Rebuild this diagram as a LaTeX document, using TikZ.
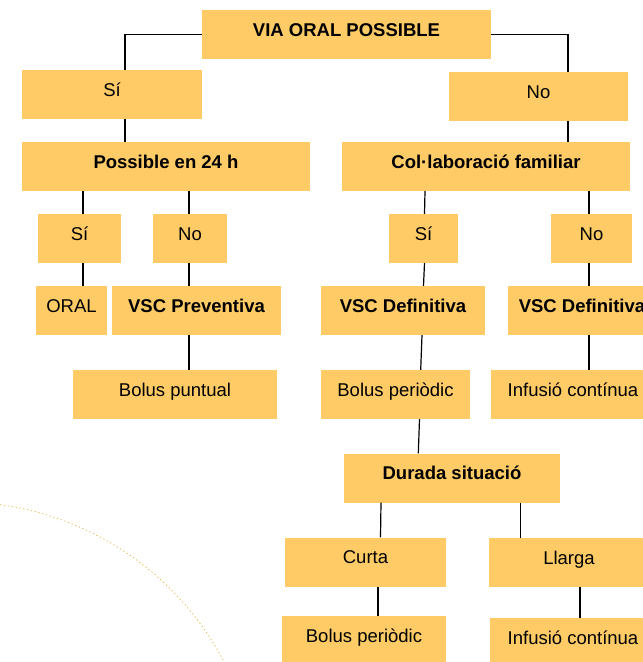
\documentclass[tikz,border=0pt]{standalone}
\usepackage{fontspec}
\setmainfont{Liberation Sans}
\definecolor{boxc}{HTML}{FECB66}
\definecolor{arcc}{HTML}{E2B43E}
\begin{document}
\begin{tikzpicture}[x=1pt,y=-1pt,
  box/.style={fill=boxc, inner sep=0pt, minimum height=49pt,
    font=\fontsize{18.5}{22}\selectfont, text height=13.25pt, text depth=10pt},
  bbox/.style={box, font=\fontsize{18.5}{22}\selectfont\bfseries},
  conn/.style={draw=black, line width=1.2pt}]
\useasboundingbox (0,0) rectangle (643,662);
\clip (0,0) rectangle (643,662);
% decorative arc
\draw[arcc, line width=0.7pt, dash pattern=on 1.3pt off 2.6pt] (-40,800) ++(-92:298) arc[start angle=-92, end angle=-18, radius=298];
% nodes
\node[bbox, minimum width=289pt] (via) at (346.5,34.5) {VIA ORAL POSSIBLE};
\node[box, minimum width=180pt] (si1) at (112,94.5) {Sí};
\node[box, minimum width=179pt] (no1) at (538.5,96.5) {No};
\node[bbox, minimum width=288pt] (poss) at (166,166.5) {Possible en 24 h};
\node[bbox, minimum width=288pt] (col) at (486,166.5) {Col·laboració familiar};
\node[box, minimum width=83pt] (si3) at (79.5,238.5) {Sí};
\node[box, minimum width=74pt] (no3) at (190,238.5) {No};
\node[box, minimum width=69pt] (si2) at (423.5,238.5) {Sí};
\node[box, minimum width=81pt] (no2) at (591.5,238.5) {No};
\node[box, minimum width=71pt] (oral) at (71.5,310.5) {ORAL};
\node[bbox, minimum width=169pt] (vscp) at (196.5,310.5) {VSC Preventiva};
\node[bbox, minimum width=164pt] (vscd1) at (403,310.5) {VSC Definitiva};
\node[bbox, minimum width=148pt] (vscd2) at (582,310.5) {VSC Definitiva};
\node[box, minimum width=204pt] (bolp) at (175,394.5) {Bolus puntual};
\node[box, minimum width=149pt] (bper1) at (395.5,394.5) {Bolus periòdic};
\node[box, minimum width=164pt] (inf1) at (573,394.5) {Infusió contínua};
\node[bbox, minimum width=216pt] (dur) at (452,478) {Durada situació};
\node[box, minimum width=161pt] (curta) at (365.5,562) {Curta};
\node[box, minimum width=160pt] (llarga) at (569,562.5) {Llarga};
\node[box, minimum width=164pt] (bper2) at (364,640.5) {Bolus periòdic};
\node[box, minimum width=166pt] (inf2) at (573,642.5) {Infusió contínua};
% connectors
\draw[conn] (via.west) -| (125,0 |- si1.north);
\draw[conn] (via.east) -| (568,0 |- no1.north);
\draw[conn] (125,0 |- si1.south) -- (125,0 |- poss.north);
\draw[conn] (568,0 |- no1.south) -- (568,0 |- col.north);
\draw[conn] (83,0 |- poss.south) -- (83,0 |- si3.north);
\draw[conn] (83,0 |- si3.south) -- (83,0 |- oral.north);
\draw[conn] (189,0 |- poss.south) -- (189,0 |- no3.north);
\draw[conn] (189,0 |- no3.south) -- (189,0 |- vscp.north);
\draw[conn] (189,0 |- vscp.south) -- (189,0 |- bolp.north);
\draw[conn] (425,0 |- col.south) -- (424.5,0 |- si2.north);
\draw[conn] (424.5,0 |- si2.south) -- (423.5,0 |- vscd1.north);
\draw[conn] (422,0 |- vscd1.south) -- (420.7,0 |- bper1.north);
\draw[conn] (419.5,0 |- bper1.south) -- (418.3,0 |- dur.north);
\draw[conn] (589,0 |- col.south) -- (589,0 |- no2.north);
\draw[conn] (589,0 |- no2.south) -- (589,0 |- vscd2.north);
\draw[conn] (589,0 |- vscd2.south) -- (589,0 |- inf1.north);
\draw[conn] (381,0 |- dur.south) -- (380.5,0 |- curta.north);
\draw[conn] (520.5,0 |- dur.south) -- (520.5,0 |- llarga.north);
\draw[conn] (378,0 |- curta.south) -- (378,0 |- bper2.north);
\draw[conn] (580,0 |- llarga.south) -- (580,0 |- inf2.north);
\end{tikzpicture}
\end{document}
